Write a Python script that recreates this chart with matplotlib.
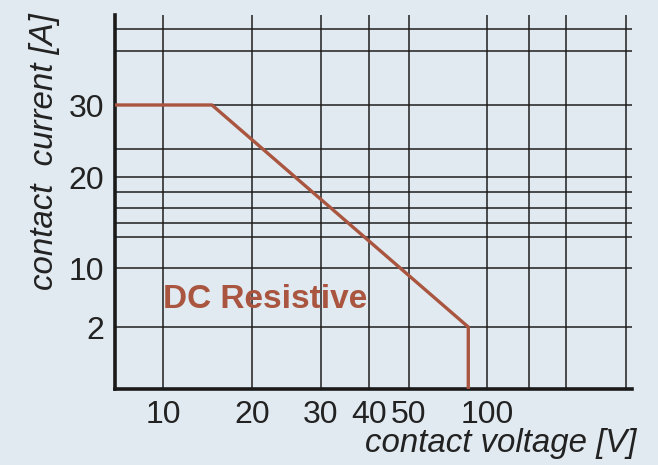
import numpy as np
import matplotlib
matplotlib.use("Agg")
import matplotlib.pyplot as plt

# ---- data ----
voltage = [5, 15.5, 88, 88]          # contact voltage [V]
current = [30, 30, 2, 0]             # contact current [A]
x_major = [10, 20, 30, 40, 50, 100]
x_major_labels = ["10", "20", "30", "40", "50", "100"]
x_minor = [200, 300, 500]
y_major = [2, 10, 20, 30]
y_major_labels = ["2", "10", "20", "30"]
y_minor = [12, 14, 16, 18, 25, 40, 50]

# ---- non-uniform chart scales (piecewise linear, as in the printed chart) ----
x_knot_val = np.array([5, 10, 20, 30, 40, 50, 100, 200, 300, 500, 550], float)
x_knot_pos = np.array([0, 48, 137, 206, 254, 294, 372, 414, 451, 511, 517], float)
y_knot_val = np.array([0, 2, 10, 12, 14, 16, 18, 20, 25, 30, 40, 50, 60], float)
y_knot_pos = np.array([0, 62, 121, 152, 166, 181, 197, 212, 240, 284, 338, 360, 374], float)

def fwd(kv, kp):
    return lambda v: np.interp(v, kv, kp)

def inv(kv, kp):
    return lambda p: np.interp(p, kp, kv)

BG = "#E1EAF0"
RED = "#A9553F"
GRID = "#1E1E1E"
plt.rcParams['font.family'] = ['Liberation Sans', 'DejaVu Sans']

fig = plt.figure(figsize=(6.58, 4.65), dpi=100, facecolor=BG)
W, H = 658, 465
L, R, T, B = 115, 632, 15, 389
ax = fig.add_axes([L / W, (H - B) / H, (R - L) / W, (B - T) / H])
ax.set_facecolor(BG)

ax.set_xscale('function', functions=(fwd(x_knot_val, x_knot_pos), inv(x_knot_val, x_knot_pos)))
ax.set_yscale('function', functions=(fwd(y_knot_val, y_knot_pos), inv(y_knot_val, y_knot_pos)))
ax.set_xlim(5, 550)
ax.set_ylim(0, 60)

ax.set_xticks(x_major)
ax.set_xticklabels(x_major_labels)
ax.set_xticks(x_minor, minor=True)
ax.set_yticks(y_major)
ax.set_yticklabels(y_major_labels)
ax.set_yticks(y_minor, minor=True)
ax.tick_params(which='both', length=0)
ax.tick_params(axis='x', pad=8, labelsize=23, colors='#222222')
ax.tick_params(axis='y', pad=8, labelsize=23, colors='#222222')

ax.grid(True, which='both', color=GRID, linewidth=1.1)
ax.set_axisbelow(True)

for s in ['top', 'right']:
    ax.spines[s].set_visible(False)
for s in ['left', 'bottom']:
    ax.spines[s].set_linewidth(2.6)
    ax.spines[s].set_color('#1A1A1A')

ax.plot(voltage, current, color=RED, linewidth=2.4, solid_joinstyle='miter', zorder=3)

ax.text(10, 5.7, "DC Resistive", color=RED, fontsize=24, fontweight='bold',
        ha='left', va='center', zorder=4)

fig.text(45 / W, 1 - 152 / H, "contact  current [A]", rotation=90, style='italic',
         fontsize=23.8, color='#222222', ha='center', va='center')
fig.text(636 / W, 1 - 443 / H, "contact voltage [V]", style='italic',
         fontsize=23.8, color='#222222', ha='right', va='center')

fig.savefig("out.png", dpi=100, facecolor=BG)
